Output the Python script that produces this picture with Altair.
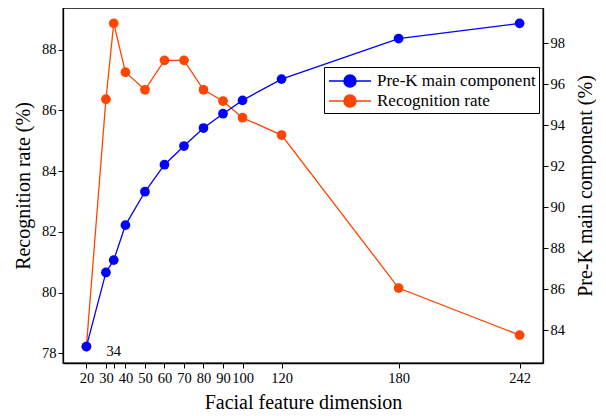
import altair as alt
import pandas as pd

dims = [20, 30, 34, 40, 50, 60, 70, 80, 90, 100, 120, 180, 242]
recognition = [78.22, 86.37, 88.87, 87.26, 86.68, 87.65, 87.65, 86.68, 86.31, 85.76, 85.19, 80.15, 78.6]
prek = [83.19, 86.81, 87.41, 89.12, 90.75, 92.07, 92.98, 93.86, 94.56, 95.21, 96.25, 98.23, 98.97]
left_ticks = [78, 80, 82, 84, 86, 88]
right_ticks = [84, 86, 88, 90, 92, 94, 96, 98]
series_names = ["Pre-K main component", "Recognition rate"]
series_colors = ["#0000ff", "#ff4500"]

FONT = "Liberation Serif"

df = pd.DataFrame({"dim": dims, "rec": recognition, "prek": prek})

x_scale = alt.Scale(domain=[8, 254], nice=False, zero=False)
x_axis = alt.Axis(
    values=dims,
    labelExpr="datum.value == 34 ? '' : datum.label",
    title="Facial feature dimension",
    grid=False,
    labelOverlap=False,
    labelFlush=False,
    labelFontSize=14.5,
    titleFontSize=20,
    titlePadding=8,
    labelPadding=3,
)
x_enc = alt.X("dim:Q", scale=x_scale, axis=x_axis)

color_enc = alt.Color(
    "series:N",
    scale=alt.Scale(domain=series_names, range=series_colors),
    legend=alt.Legend(
        title=None,
        orient="none",
        legendX=261,
        legendY=59,
        strokeColor="black",
        fillColor="white",
        padding=3,
        cornerRadius=0,
        symbolType="M-2.1,0H2.1M0.6,0A0.6,0.6,0,1,1,-0.6,0A0.6,0.6,0,1,1,0.6,0Z",
        symbolSize=400,
        symbolOffset=12,
        symbolStrokeWidth=1.5,
        labelFontSize=17,
        labelFont=FONT,
        rowPadding=0,
        labelOffset=16,
    ),
)

left_scale = alt.Scale(domain=[77.68, 89.375], nice=False, zero=False)
right_scale = alt.Scale(domain=[82.39, 99.72], nice=False, zero=False)

orange = (
    alt.Chart(df)
    .transform_calculate(series="'Recognition rate'")
    .mark_line(point=alt.OverlayMarkDef(filled=True, size=95, opacity=1), strokeWidth=1.3)
    .encode(
        x=x_enc,
        y=alt.Y(
            "rec:Q",
            scale=left_scale,
            axis=alt.Axis(
                orient="left",
                values=left_ticks,
                title="Recognition rate (%)",
                grid=False,
                labelFontSize=14.5,
                titleFontSize=20,
                titlePadding=8,
            ),
        ),
        color=color_enc,
    )
)

blue = (
    alt.Chart(df)
    .transform_calculate(series="'Pre-K main component'")
    .mark_line(point=alt.OverlayMarkDef(filled=True, size=95, opacity=1), strokeWidth=1.3)
    .encode(
        x=x_enc,
        y=alt.Y(
            "prek:Q",
            scale=right_scale,
            axis=alt.Axis(
                orient="right",
                values=right_ticks,
                title="Pre-K main component (%)",
                titleAngle=270,
                titleBaseline="top",
                grid=False,
                labelFontSize=14.5,
                titleFontSize=20,
                titlePadding=11,
            ),
        ),
        color=color_enc,
    )
)

label_df = pd.DataFrame({"dim": [34], "v": [78.04], "t": ["34"]})
label34 = (
    alt.Chart(label_df)
    .mark_text(font=FONT, fontSize=14.5, color="black", baseline="middle", align="center")
    .encode(
        x=x_enc,
        y=alt.Y("v:Q", scale=left_scale, axis=None),
        text="t:N",
    )
)

chart = (
    alt.layer(orange, label34, blue)
    .resolve_scale(y="independent")
    .properties(width=480, height=355, padding={"left": 5, "top": 0, "right": 0, "bottom": 0})
    .configure(font=FONT)
    .configure_view(stroke="black", strokeWidth=1.3)
    .configure_axis(
        domainColor="black",
        tickColor="black",
        tickSize=5,
        labelColor="black",
        titleColor="black",
        labelFont=FONT,
        titleFont=FONT,
        titleFontWeight="normal",
        domainWidth=1.3,
    )
)

chart.save("out.html", embed_options={"renderer": "svg", "actions": False})
